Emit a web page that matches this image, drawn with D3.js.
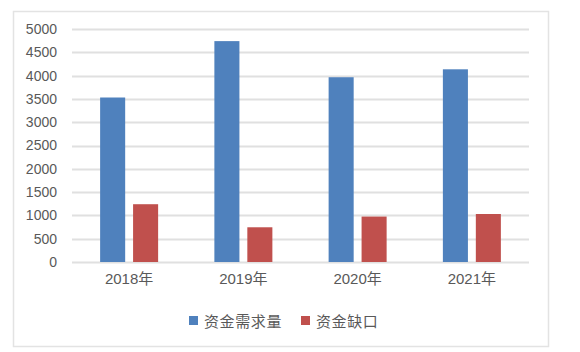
<!DOCTYPE html>
<html><head><meta charset="utf-8">
<script src="https://cdn.jsdelivr.net/npm/d3@7"></script>
<style>body{margin:0;background:#fff}svg{display:block}</style>
</head><body><svg id="c" width="580" height="352"></svg>
<script>
const categories = ["2018年","2019年","2020年","2021年"];
const seriesNames = ["资金需求量","资金缺口"];
const demand = [3530, 4740, 3965, 4135];
const gap = [1240, 745, 975, 1030];
const yTicks = [0,500,1000,1500,2000,2500,3000,3500,4000,4500,5000];
const colors = ["#4f81bd","#c0504d"];

const svg = d3.select("#c");
const font = "'Liberation Sans','Noto Sans CJK SC',sans-serif";
svg.append("rect").attr("x",13.5).attr("y",11.5).attr("width",535).attr("height",335)
  .attr("fill","#fff").attr("stroke","#e3e3e3").attr("stroke-width",1.5);

const L=72,R=529,T=29,B=262;
const x = d3.scaleBand().domain(categories).range([L,R]);
const y = d3.scaleLinear().domain([0,5000]).range([B,T]);
const xs = d3.scaleBand().domain(seriesNames).range([0,58]).paddingInner(0.24);

svg.append("g").selectAll("line").data(yTicks).join("line")
  .attr("x1",L).attr("x2",R).attr("y1",d=>Math.round(y(d))+0.5).attr("y2",d=>Math.round(y(d))+0.5)
  .attr("stroke","#e0e0e0").attr("stroke-width",2);

const yAxis = d3.axisLeft(y).tickValues(yTicks).tickFormat(d3.format("d")).tickSize(0).tickPadding(0);
const ga = svg.append("g").attr("transform",`translate(57,0)`).call(yAxis);
ga.select(".domain").remove();
ga.selectAll("text").attr("font-family",font).attr("font-size",14).attr("fill","#595959");

const data = [demand, gap];
categories.forEach((c,i)=>{
  const g = svg.append("g").attr("transform",`translate(${x(c)+x.bandwidth()/2-29},0)`);
  g.selectAll("rect").data(seriesNames).join("rect")
    .attr("x",s=>xs(s)).attr("width",xs.bandwidth())
    .attr("y",(s,k)=>y(data[k][i])).attr("height",(s,k)=>B-y(data[k][i]))
    .attr("fill",(s,k)=>colors[k]);
});

const xAxis = d3.axisBottom(x).tickSize(0).tickPadding(0);
const gx = svg.append("g").attr("transform",`translate(0,${B})`).call(xAxis);
gx.select(".domain").remove();
gx.selectAll("text").attr("font-family",font).attr("font-size",15).attr("fill","#595959").attr("dy","1.45em");

const leg = svg.append("g");
const lx = [189, 301];
seriesNames.forEach((s,k)=>{
  leg.append("rect").attr("x",lx[k]).attr("y",316).attr("width",9).attr("height",9).attr("fill",colors[k]);
  leg.append("text").attr("x",lx[k]+15).attr("y",327).text(s)
    .attr("font-family",font).attr("font-size",15).attr("letter-spacing",0.6).attr("fill","#595959");
});
</script></body></html>
